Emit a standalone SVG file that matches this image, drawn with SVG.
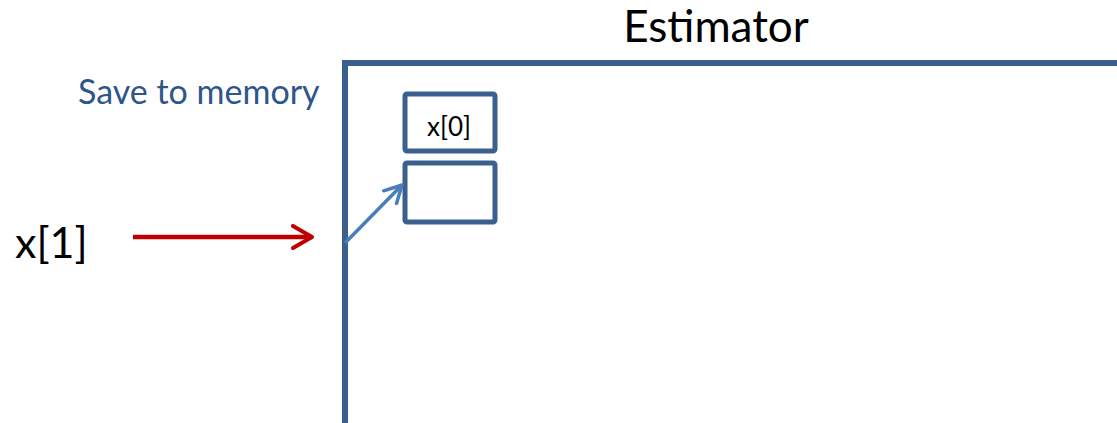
<svg xmlns="http://www.w3.org/2000/svg" width="1117" height="423" viewBox="0 0 1117 423">
  <style>
    .frame { fill: none; stroke: #3b5f8e; stroke-width: 6; }
    .cell { fill: #ffffff; stroke: #3b5f8e; stroke-width: 5; }
    .lbl { font-family: Lato, "Open Sans", "Liberation Sans", sans-serif; }
  </style>
  <defs>
    <marker id="headRed" markerWidth="24" markerHeight="26" refX="21" refY="13" orient="auto" markerUnits="userSpaceOnUse">
      <path d="M2,2 L21,13 L2,24" fill="none" stroke="#c00000" stroke-width="4" stroke-linecap="round" stroke-linejoin="round"/>
    </marker>
    <marker id="headBlue" markerWidth="22" markerHeight="22" refX="19" refY="11" orient="auto" markerUnits="userSpaceOnUse">
      <path d="M2,2 L19,11 L2,20" fill="none" stroke="#4a7ebb" stroke-width="3.5" stroke-linecap="round" stroke-linejoin="round"/>
    </marker>
  </defs>
  <rect width="1117" height="423" fill="#ffffff"/>

  <g id="estimator">
    <path class="frame" d="M345,430 L345,63 L1125,63"/>
    <text class="lbl" x="716" y="42" font-size="44" text-anchor="middle" fill="#000000">Estimator</text>
  </g>

  <g id="save-label">
    <text class="lbl" x="78" y="104" font-size="34" fill="#2e558c">Save to memory</text>
  </g>

  <g id="cell-0">
    <rect class="cell" x="405" y="94" width="90" height="57" rx="2"/>
    <text class="lbl" x="449" y="136" font-size="26" text-anchor="middle" fill="#000000">x[0]</text>
  </g>

  <g id="cell-1">
    <rect class="cell" x="405" y="163" width="90" height="59" rx="2"/>
  </g>

  <g id="input">
    <text class="lbl" x="15" y="258" font-size="43" fill="#000000">x[1]</text>
  </g>

  <g id="connectors">
    <line x1="133" y1="237" x2="312" y2="237" stroke="#c00000" stroke-width="4.5" marker-end="url(#headRed)"/>
    <line x1="345" y1="243" x2="402" y2="185" stroke="#4a7ebb" stroke-width="3.5" marker-end="url(#headBlue)"/>
  </g>
</svg>
